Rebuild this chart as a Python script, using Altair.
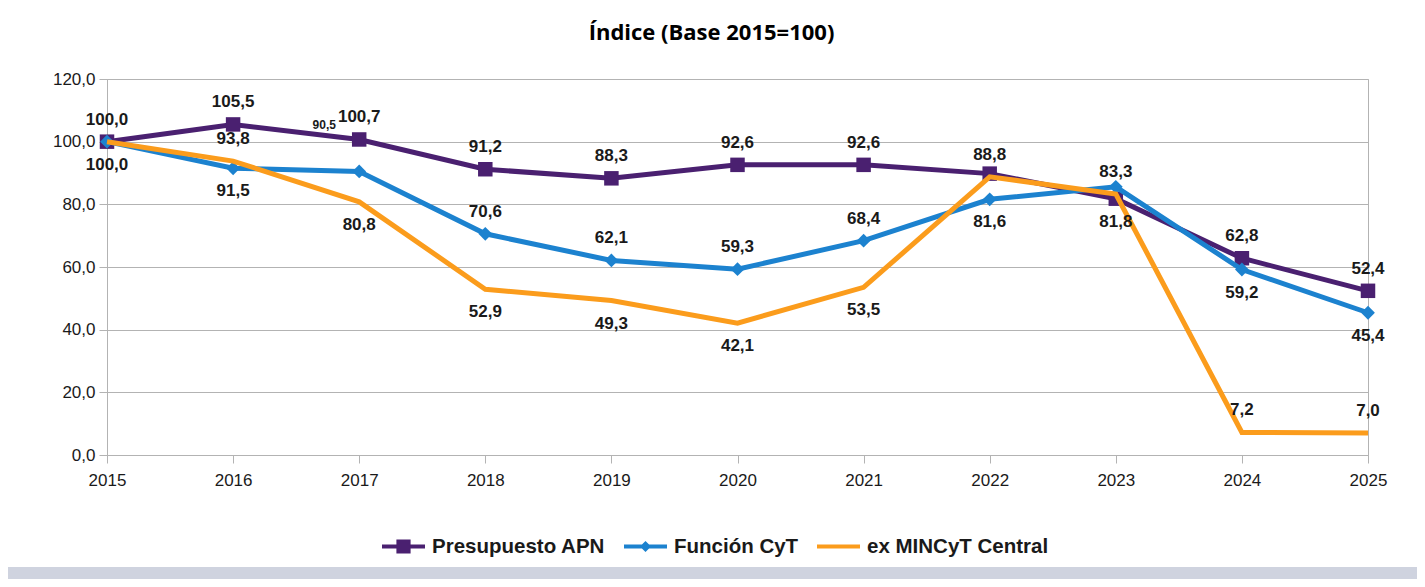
import altair as alt
import pandas as pd

# ---------------- data ----------------
years = [2015, 2016, 2017, 2018, 2019, 2020, 2021, 2022, 2023, 2024, 2025]
presupuesto_apn = [100.0, 105.5, 100.7, 91.2, 88.3, 92.6, 92.6, 89.8, 81.8, 62.8, 52.4]
funcion_cyt = [100.0, 91.5, 90.5, 70.6, 62.1, 59.3, 68.4, 81.6, 85.6, 59.2, 45.4]
ex_mincyt = [100.0, 93.8, 80.8, 52.9, 49.3, 42.1, 53.5, 88.8, 83.3, 7.2, 7.0]

series_names = ["Presupuesto APN", "Función CyT", "ex MINCyT Central"]
# which data labels are shown: "a" above the point, "b" below, "s" small/overlapped, "" none
labels_apn = ["a", "a", "a", "a", "a", "a", "a", "", "b", "a", "a"]
labels_cyt = ["b", "b", "s", "a", "a", "a", "a", "b", "", "b", "b"]
labels_mincyt = ["", "a", "b", "b", "b", "b", "b", "a", "a", "a", "a"]

title_text = "Índice (Base 2015=100)"
y_ticks = [0, 20, 40, 60, 80, 100, 120]

# ---------------- styles ----------------
colors = ["#4a2070", "#1c82cf", "#fb9c1c"]
grid_col = "#b3b3b3"
frame_col = "#cfd3df"
txt_col = "#1a1a1a"

rows = []
for name, vals, labs in zip(series_names, [presupuesto_apn, funcion_cyt, ex_mincyt],
                            [labels_apn, labels_cyt, labels_mincyt]):
    for yr, v, lab in zip(years, vals, labs):
        rows.append({"year": yr, "serie": name, "valor": v, "pos": lab,
                     "texto": f"{v:.1f}".replace(".", ",")})
df = pd.DataFrame(rows)

W, H = 1261, 376
PAD = {"left": 99, "top": 71, "right": 49, "bottom": 124}

x_enc = alt.X("year:Q",
              scale=alt.Scale(domain=[2015, 2025], nice=False, zero=False),
              axis=alt.Axis(values=years, format="d", title=None, grid=False,
                            tickSize=8, tickColor=grid_col, domainColor=grid_col,
                            labelFont="Liberation Sans", labelFontSize=17,
                            labelColor=txt_col, labelPadding=9, labelFlush=False))
y_enc = alt.Y("valor:Q",
              scale=alt.Scale(domain=[0, 120], nice=False),
              axis=alt.Axis(values=y_ticks, title=None, grid=True, gridColor=grid_col,
                            tickSize=8, tickColor=grid_col, domainColor=grid_col,
                            labelExpr="replace(format(datum.value, '.1f'), '.', ',')",
                            labelFont="Liberation Sans", labelFontSize=17,
                            labelColor=txt_col, labelPadding=4))

color_scale = alt.Scale(domain=series_names, range=colors)

base = alt.Chart(df)

# bottom frame strip (decorative)
strip = alt.Chart(pd.DataFrame({"k": [0]})).mark_rect(color=frame_col).encode(
    x=alt.value(-99), x2=alt.value(1310), y=alt.value(488), y2=alt.value(501))

# legend-only layer: no rows survive the filter, the legend comes from the explicit domain
leg_paths = [
    "M-1,-0.093H1V0.093H-1Z M-0.33,-0.33H0.33V0.33H-0.33Z",
    "M-1,-0.093H1V0.093H-1Z M0,-0.26L0.26,0L0,0.26L-0.26,0Z",
    "M-1,-0.093H1V0.093H-1Z",
]
legend_layer = base.transform_filter(alt.datum.year < 0).mark_point(
    filled=True, opacity=1).encode(
    x=x_enc, y=y_enc,
    color=alt.Color("serie:N", scale=color_scale,
                    legend=alt.Legend(title=None, orient="none", direction="horizontal",
                                      columns=3, legendX=275, legendY=446,
                                      symbolSize=1849, symbolStrokeWidth=0,
                                      symbolOpacity=1, labelOffset=7, columnPadding=18,
                                      labelFont="Liberation Sans", labelFontSize=20.5,
                                      labelFontWeight="bold", labelColor=txt_col,
                                      labelLimit=400)),
    shape=alt.Shape("serie:N", scale=alt.Scale(domain=series_names, range=leg_paths)))

layers = [strip, legend_layer]
for i, name in enumerate(series_names):
    sub = base.transform_filter(alt.datum.serie == name)
    layers.append(sub.mark_line(strokeWidth=5, color=colors[i]).encode(
        x=x_enc, y=y_enc, order="year:Q"))
    if i == 0:
        layers.append(sub.mark_point(shape="square", filled=True, size=210,
                                     opacity=1, color=colors[0]).encode(x=x_enc, y=y_enc))
    if i == 1:
        layers.append(sub.mark_point(shape="diamond", filled=True, size=190,
                                     opacity=1, color=colors[1]).encode(x=x_enc, y=y_enc))

# data labels
lab_common = dict(font="Liberation Sans", fontWeight="bold", color=txt_col)
above = base.transform_filter(alt.datum.pos == "a").mark_text(
    fontSize=17, dy=-22, **lab_common).encode(x=x_enc, y=y_enc, text="texto:N")
below = base.transform_filter(alt.datum.pos == "b").mark_text(
    fontSize=17, dy=23, **lab_common).encode(x=x_enc, y=y_enc, text="texto:N")
small = base.transform_filter(alt.datum.pos == "s").mark_text(
    fontSize=12, dy=-46, dx=-35, **lab_common).encode(x=x_enc, y=y_enc, text="texto:N")
layers += [small, above, below]

chart = alt.layer(*layers).properties(
    width=W, height=H,
    padding=PAD,
    autosize=alt.AutoSizeParams(type="none"),
    background="white",
    title=alt.TitleParams(title_text, font="Open Sans", fontSize=22, fontWeight="bold",
                          color="#000000", anchor="middle", frame="group", dx=-26,
                          offset=25),
).configure_view(stroke=grid_col, strokeWidth=1)

chart.save("out.html", embed_options={"renderer": "svg", "actions": False})
